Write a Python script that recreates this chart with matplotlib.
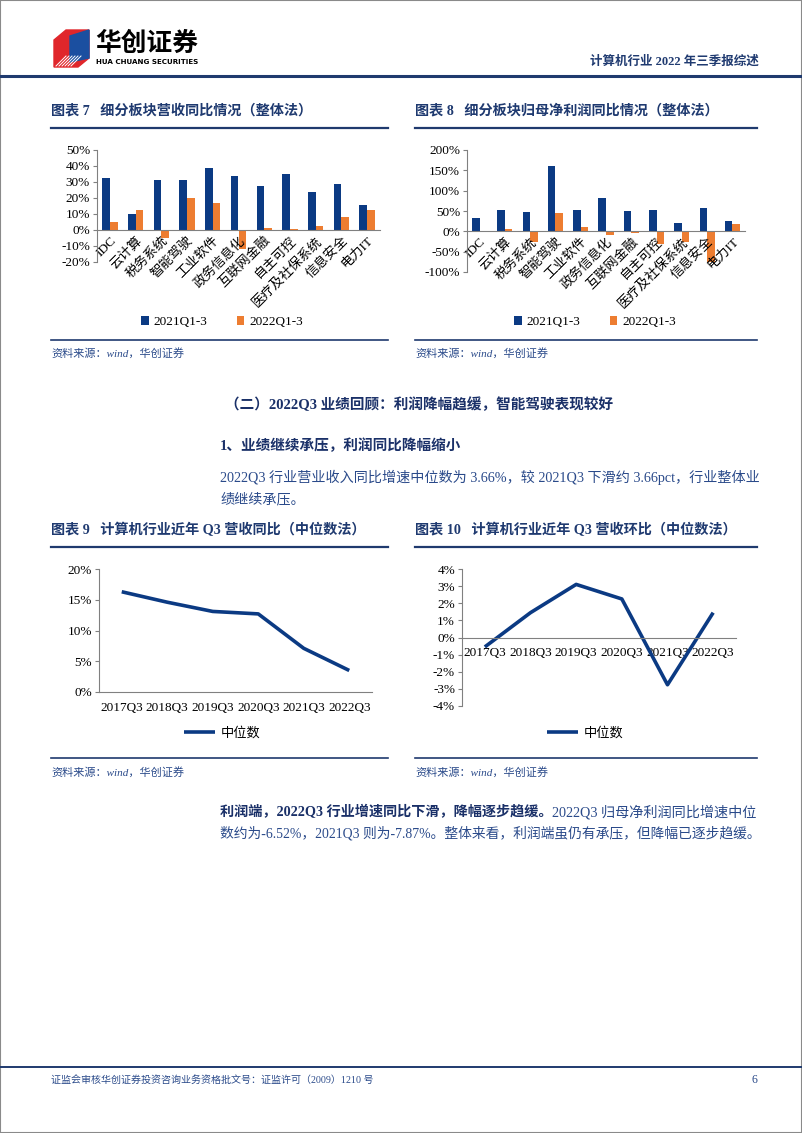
import numpy as np
import matplotlib
matplotlib.use('Agg')
import matplotlib.pyplot as plt
from matplotlib.lines import Line2D
from matplotlib.patches import Polygon, Rectangle
from matplotlib.ticker import FuncFormatter

plt.rcParams['font.family'] = ['Liberation Serif', 'Noto Sans CJK SC']
plt.rcParams['axes.unicode_minus'] = False

# ---- data ----
sectors = ['IDC', '云计算', '税务系统', '智能驾驶', '工业软件', '政务信息化',
           '互联网金融', '自主可控', '医疗及社保系统', '信息安全', '电力IT']
rev_2021 = [32.3, 9.8, 31.5, 31.0, 38.5, 34.0, 27.3, 34.8, 23.5, 28.5, 15.4]
rev_2022 = [4.8, 12.3, -5.0, 19.8, 16.9, -12.0, 1.3, 0.8, 2.7, 7.9, 12.5]
np_2021 = [32, 52, 48, 161, 53, 81, 51, 52, 20, 58, 25]
np_2022 = [0.5, 5, -26, 44, 11, -9, -5, -32, -26, -75, 17]

quarters = ['2017Q3', '2018Q3', '2019Q3', '2020Q3', '2021Q3', '2022Q3']
rev_yoy = [16.3, 14.6, 13.1, 12.7, 7.1, 3.5]
rev_qoq = [-0.55, 1.45, 3.1, 2.25, -2.76, 1.45]

W, H = 802, 1133
NAVY = '#0B3A83'
ORANGE = '#ED7D31'
TITLE = '#1F3A70'
BODY = '#2A4A8A'
GREY = '#808080'

fig = plt.figure(figsize=(W / 100, H / 100), dpi=100)


def fx(x):
    return x / W


def fy(y):
    return 1 - y / H


def add_ax(x0, y0, x1, y1):
    return fig.add_axes([x0 / W, 1 - y1 / H, (x1 - x0) / W, (y1 - y0) / H])


def hline(x0, x1, y, lw, color):
    fig.add_artist(Line2D([fx(x0), fx(x1)], [fy(y), fy(y)], lw=lw, color=color))


def put(x, y, s, size, color=BODY, weight='normal', ha='left', **kw):
    return fig.text(fx(x), fy(y), s, fontsize=size, color=color, weight=weight,
                    ha=ha, va='center', **kw)


renderer = fig.canvas.get_renderer()


def fit(t, width):
    # scale font so the line spans the given pixel width (justified look)
    w = t.get_window_extent(renderer).width
    t.set_fontsize(t.get_fontsize() * width / w)


# ---- page frame, header, footer ----
fig.add_artist(Rectangle((0, 0), 1, 1, transform=fig.transFigure, fill=False,
                         edgecolor='#8a8a8a', lw=1.5))
hline(0, W, 76, 2.2, '#1F3A6E')
hline(0, W, 1067, 1.4, '#1F3A6E')

# logo: red/blue cube
fig.add_artist(Polygon([(fx(54), fy(40)), (fx(66), fy(30)), (fx(89), fy(30)),
                        (fx(89), fy(58)), (fx(78), fy(67)), (fx(54), fy(67))],
                       closed=True, transform=fig.transFigure, color='#E0262B'))
fig.add_artist(Polygon([(fx(70), fy(36)), (fx(89), fy(30)), (fx(89), fy(58)),
                        (fx(70), fy(62))], closed=True,
                       transform=fig.transFigure, color='#1B4FA0'))
for k in range(6):
    fig.add_artist(Line2D([fx(56 + 3 * k), fx(66 + 3 * k)], [fy(66), fy(56)],
                          lw=0.7, color='white'))
put(95, 43, '华创证券', 18.5, color='black', weight='bold', family=['Noto Sans CJK SC'])
t = put(96, 62, 'HUA CHUANG SECURITIES', 5.6, color='black', weight='bold',
        family=['DejaVu Sans'])
fit(t, 102)
put(759, 62, '计算机行业 2022 年三季报综述', 9, color=TITLE, weight='bold', ha='right')

put(51, 1080, '证监会审核华创证券投资咨询业务资格批文号：证监许可（2009）1210 号', 7.2,
    color=BODY)
put(757, 1080, '6', 8.5, color=BODY, ha='right')

# ---- chart titles ----
put(51, 111, '图表 7   细分板块营收同比情况（整体法）', 10.2, color=TITLE, weight='bold')
put(415, 111, '图表 8   细分板块归母净利润同比情况（整体法）', 10.2, color=TITLE, weight='bold')
hline(51, 388, 128, 1.6, '#1F3A6E')
hline(415, 757, 128, 1.6, '#1F3A6E')
hline(51, 388, 340, 1.2, '#1F3A6E')
hline(415, 757, 340, 1.2, '#1F3A6E')
put(51, 353, '资料来源：wind，华创证券', 8, color=BODY, style='italic')
put(415, 353, '资料来源：wind，华创证券', 8, color=BODY, style='italic')

put(51, 530, '图表 9   计算机行业近年 Q3 营收同比（中位数法）', 10.2, color=TITLE, weight='bold')
put(415, 530, '图表 10   计算机行业近年 Q3 营收环比（中位数法）', 10.2, color=TITLE, weight='bold')
hline(51, 388, 547, 1.6, '#1F3A6E')
hline(415, 757, 547, 1.6, '#1F3A6E')
hline(51, 388, 758, 1.2, '#1F3A6E')
hline(415, 757, 758, 1.2, '#1F3A6E')
put(51, 772, '资料来源：wind，华创证券', 8, color=BODY, style='italic')
put(415, 772, '资料来源：wind，华创证券', 8, color=BODY, style='italic')

# ---- body text ----
put(225, 405, '（二）2022Q3 业绩回顾：利润降幅趋缓，智能驾驶表现较好', 10.5,
    color='#1A3068', weight='bold')
put(220, 446, '1、业绩继续承压，利润同比降幅缩小', 10.5, color='#1A3068', weight='bold')
t = put(220, 477, '2022Q3 行业营业收入同比增速中位数为 3.66%，较 2021Q3 下滑约 3.66pct，行业整体业',
        10.5)
fit(t, 540)
put(220, 500, '绩继续承压。', t.get_fontsize())

tb = put(220, 812, '利润端，2022Q3 行业增速同比下滑，降幅逐步趋缓。', 10.5,
         color='#1A3068', weight='bold')
bw = tb.get_window_extent(renderer).width
tn = put(220 + bw, 812, '2022Q3 归母净利润同比增速中位', 10.5)
nw = tn.get_window_extent(renderer).width
scale = 540 / (bw + nw)
tb.set_fontsize(10.5 * scale)
tn.set_fontsize(10.5 * scale)
bw = tb.get_window_extent(renderer).width
tn.set_x(fx(220 + bw))
t2 = put(220, 833, '数约为-6.52%，2021Q3 则为-7.87%。整体来看，利润端虽仍有承压，但降幅已逐步趋缓。',
         10.5 * scale)
fit(t2, 540)

pct = FuncFormatter(lambda v, p: f'{v:.0f}%')


# ---- bar charts ----
def bar_chart(ax, a, b, lo, hi, step, legend_xy):
    x = np.arange(len(sectors))
    w = 0.3
    ax.bar(x - w / 2, a, w, color=NAVY, label='2021Q1-3')
    ax.bar(x + w / 2, b, w, color=ORANGE, label='2022Q1-3')
    ax.set_xlim(-0.5, len(sectors) - 0.5)
    ax.set_ylim(lo, hi)
    ax.set_yticks(np.arange(lo, hi + 1, step))
    ax.yaxis.set_major_formatter(pct)
    ax.spines[['top', 'right']].set_visible(False)
    ax.spines['bottom'].set_position(('data', 0))
    ax.spines['bottom'].set_color(GREY)
    ax.spines['left'].set_color(GREY)
    ax.set_xticks(x)
    ax.set_xticklabels(sectors, rotation=45, ha='right', va='top',
                       rotation_mode='anchor', fontsize=9.5)
    ax.tick_params(axis='x', length=0, pad=3)
    ax.tick_params(axis='y', length=3, labelsize=9.5, pad=2, color=GREY)
    ax.patch.set_alpha(0)
    ax.legend(loc='center', bbox_to_anchor=(fx(legend_xy[0]), fy(legend_xy[1])),
              bbox_transform=fig.transFigure, ncol=2, frameon=False, fontsize=9.5,
              handlelength=0.6, handleheight=0.6, handletextpad=0.4, columnspacing=2.2)


ax1 = add_ax(97, 150, 380, 262)
bar_chart(ax1, rev_2021, rev_2022, -20, 50, 10, (222, 322))
ax2 = add_ax(467, 150, 745, 272)
bar_chart(ax2, np_2021, np_2022, -100, 200, 50, (595, 322))


# ---- line charts ----
def line_chart(ax, vals, lo, hi, step, legend_xy):
    x = np.arange(len(quarters))
    ax.plot(x, vals, color=NAVY, lw=2.6, label='中位数', solid_capstyle='butt')
    ax.set_xlim(-0.5, len(quarters) - 0.5)
    ax.set_ylim(lo, hi)
    ax.set_yticks(np.arange(lo, hi + 0.1, step))
    ax.yaxis.set_major_formatter(pct)
    ax.spines[['top', 'right']].set_visible(False)
    ax.spines['bottom'].set_position(('data', 0))
    ax.spines['bottom'].set_color(GREY)
    ax.spines['left'].set_color(GREY)
    ax.set_xticks(x)
    ax.set_xticklabels(quarters, fontsize=9.5)
    ax.tick_params(axis='x', length=0, pad=7)
    ax.tick_params(axis='y', length=3, labelsize=9.5, pad=2, color=GREY)
    ax.patch.set_alpha(0)
    ax.legend(loc='center', bbox_to_anchor=(fx(legend_xy[0]), fy(legend_xy[1])),
              bbox_transform=fig.transFigure, frameon=False, fontsize=9.5,
              handlelength=2.4, handletextpad=0.4)


ax3 = add_ax(99, 569, 372, 692)
line_chart(ax3, rev_yoy, 0, 20, 5, (222, 733))
ax4 = add_ax(462, 569, 736, 706)
line_chart(ax4, rev_qoq, -4, 4, 1, (585, 733))

fig.savefig('out.png', dpi=100)
